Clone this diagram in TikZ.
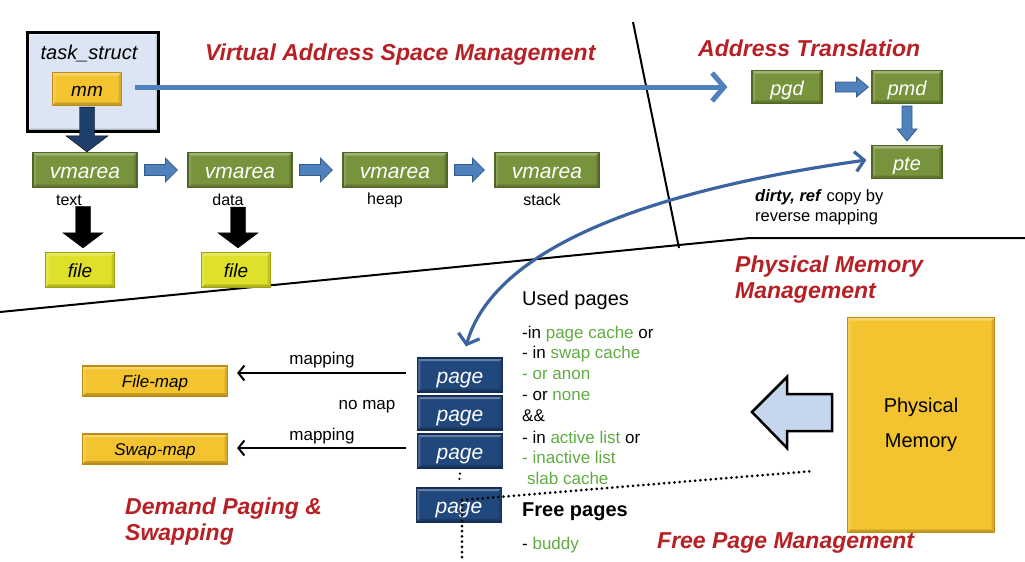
\documentclass[tikz,border=0pt]{standalone}
\usepackage{fontspec}
\setmainfont{Liberation Sans}
\usetikzlibrary{arrows.meta,calc}
\definecolor{tred}{RGB}{183,32,36}
\definecolor{tgreen}{RGB}{96,172,66}
\definecolor{gfill}{RGB}{119,147,60}
\definecolor{gdraw}{RGB}{80,100,40}
\definecolor{pgfill}{RGB}{33,72,124}
\definecolor{pgdraw}{RGB}{20,45,85}
\definecolor{gold}{RGB}{244,196,48}
\definecolor{golddraw}{RGB}{190,140,20}
\definecolor{yfill}{RGB}{222,224,42}
\definecolor{ydraw}{RGB}{160,160,20}
\definecolor{tsfill}{RGB}{219,229,244}
\definecolor{bfill}{RGB}{79,129,189}
\definecolor{bdraw}{RGB}{52,90,140}
\definecolor{dkblue}{RGB}{30,62,108}
\definecolor{lblue}{RGB}{198,214,238}
\definecolor{cblue}{RGB}{60,100,160}
\newcommand\rblk[6]{\draw[#3] let \p1=(#1),\p2=(#2) in (\x1,\y1+#4) -- (\x2-#6,\y1+#4) -- (\x2-#6,\y1+#5) -- (\x2,\y1) -- (\x2-#6,\y1-#5) -- (\x2-#6,\y1-#4) -- (\x1,\y1-#4) -- cycle;}
\newcommand\dblk[6]{\draw[#3] let \p1=(#1),\p2=(#2) in (\x1-#4,\y1) -- (\x1-#4,\y2+#6) -- (\x1-#5,\y2+#6) -- (\x1,\y2) -- (\x1+#5,\y2+#6) -- (\x1+#4,\y2+#6) -- (\x1+#4,\y1) -- cycle;}
\tikzset{
  box/.style={rectangle, inner sep=0pt, line width=1.2pt,
    path picture={
      \fill[white, opacity=0.3] (path picture bounding box.north west) -- (path picture bounding box.north east) -- ([xshift=-3pt,yshift=-3pt]path picture bounding box.north east) -- ([xshift=3pt,yshift=-3pt]path picture bounding box.north west) -- cycle;
      \fill[white, opacity=0.15] (path picture bounding box.north west) -- (path picture bounding box.south west) -- ([xshift=3pt,yshift=3pt]path picture bounding box.south west) -- ([xshift=3pt,yshift=-3pt]path picture bounding box.north west) -- cycle;
      \fill[black, opacity=0.2] (path picture bounding box.south west) -- (path picture bounding box.south east) -- ([xshift=-3pt,yshift=3pt]path picture bounding box.south east) -- ([xshift=3pt,yshift=3pt]path picture bounding box.south west) -- cycle;
      \fill[black, opacity=0.12] (path picture bounding box.north east) -- (path picture bounding box.south east) -- ([xshift=-3pt,yshift=3pt]path picture bounding box.south east) -- ([xshift=-3pt,yshift=-3pt]path picture bounding box.north east) -- cycle;
    }},
  gbox/.style={box, fill=gfill, draw=gdraw, minimum width=104pt, minimum height=35pt, text=white, text height=16.5pt, text depth=0pt, font=\fontsize{21}{24}\selectfont\itshape},
  sgbox/.style={box, fill=gfill, draw=gdraw, minimum width=70pt, minimum height=33pt, text=white, text height=16pt, text depth=0pt, font=\fontsize{20}{24}\selectfont\itshape},
  pgbox/.style={box, fill=pgfill, draw=pgdraw, minimum width=85pt, minimum height=34pt, text=white, text height=16.5pt, text depth=0pt, font=\fontsize{21}{24}\selectfont\itshape},
  mapbox/.style={box, fill=gold, draw=golddraw, minimum width=145pt, minimum height=30pt, text height=13.5pt, text depth=0pt, font=\fontsize{17}{20}\selectfont\itshape},
  filebox/.style={box, fill=yfill, draw=ydraw, minimum width=69pt, minimum height=35pt, text height=15pt, text depth=0pt, font=\fontsize{19}{22}\selectfont\itshape},
  ttl/.style={anchor=west, inner sep=0pt, align=left, text=tred, font=\fontsize{23}{26}\selectfont\bfseries\itshape},
  lbl/.style={inner sep=0pt, font=\fontsize{16}{19}\selectfont},
  lst/.style={anchor=west, inner sep=0pt, font=\fontsize{17}{20}\selectfont},
  bblk/.style={fill=bfill, draw=bdraw, line width=0.8pt},
  dots/.style={line width=3pt, line cap=round, dash pattern=on 0pt off 5.2pt},
  sep/.style={line width=2pt, black},
}
\begin{document}
\begin{tikzpicture}[x=1pt,y=-1pt]
\useasboundingbox (0,0) rectangle (1025,562);
\fill[white] (0,0) rectangle (1025,562);

% separators
\draw[sep] (0,312) -- (750,238) -- (1025,238);
\draw[sep] (633,22) -- (679,248);

% task_struct
\node[box, fill=tsfill, draw=black, line width=3pt, minimum width=131pt, minimum height=99pt] (ts) at (93,82) {};
\node[inner sep=0pt, font=\fontsize{20}{24}\selectfont\itshape] (tsl) at (89,53) {task\_struct};
\node[box, fill=gold, draw=golddraw, minimum width=69pt, minimum height=33pt, text height=15pt, text depth=0pt, font=\fontsize{19}{22}\selectfont\itshape] (mm) at (87,89) {mm};

% vmareas
\node[gbox] (v1) at (85,170) {vmarea};
\node[gbox] (v2) at (240,170) {vmarea};
\node[gbox] (v3) at (395,170) {vmarea};
\node[gbox] (v4) at (547,170) {vmarea};
\node[lbl] (lt) at (69,200) {text};
\node[lbl] (ld) at (228,200) {data};
\node[lbl] (lh) at (385,200) {heap};
\node[lbl] (ls) at (542,200) {stack};

\node[filebox] (f1) at (80,270) {file};
\node[filebox] (f2) at (236,270) {file};

% address translation
\node[sgbox] (pgd) at (787,87) {pgd};
\node[sgbox] (pmd) at (907,87) {pmd};
\node[sgbox] (pte) at (907,162) {pte};
\node[lbl, anchor=west, align=left, font=\fontsize{16.5}{20}\selectfont] (dr) at (755,207) {\textbf{\textit{dirty, ref}} copy by\\reverse mapping};

% pages
\node[pgbox] (pg1) at (460,375) {page};
\node[pgbox] (pg2) at (460,413) {page};
\node[pgbox] (pg3) at (460,451) {page};
\node[pgbox] (pg4) at (459,505) {page};

% maps
\node[mapbox] (fm) at (155,381) {File-map};
\node[mapbox] (sm) at (155,449) {Swap-map};
\node[lbl, font=\fontsize{17}{20}\selectfont] (m1) at (322,360) {mapping};
\node[lbl, font=\fontsize{17}{20}\selectfont] (nm) at (367,407) {no map};
\node[lbl, font=\fontsize{17}{20}\selectfont] (m2) at (322,436) {mapping};

% physical memory
\node[box, fill=gold, draw=golddraw, minimum width=147pt, minimum height=215pt, align=center, font=\fontsize{20}{35}\selectfont] (pm) at (921,425) {Physical\\Memory};

% titles
\node[ttl] (tv) at (205,55) {Virtual Address Space Management};
\node[ttl] (ta) at (698,48) {Address Translation};
\node[ttl] (tp) at (735,280) {Physical Memory\\Management};
\node[ttl] (td) at (125,522) {Demand Paging \&\\Swapping};
\node[ttl] (tf) at (657,543) {Free Page Management};

% used pages list
\node[lst, font=\fontsize{20}{24}\selectfont] (up) at (522,300) {Used pages};
\node[lst] (u1) at (522,334) {-in {\color{tgreen}page cache} or};
\node[lst] (u2) at (522,354) {- in {\color{tgreen}swap cache}};
\node[lst, text=tgreen] (u3) at (522,375) {- or anon};
\node[lst] (u4) at (522,396) {- or {\color{tgreen}none}};
\node[lst] (u5) at (522,416) {\&\&};
\node[lst] (u6) at (522,437) {- in {\color{tgreen}active list} or};
\node[lst, text=tgreen] (u7) at (522,457) {- inactive list};
\node[lst, text=tgreen] (u8) at (527,478) {slab cache};
\node[lst, font=\fontsize{20}{24}\selectfont\bfseries] (fp) at (522,512) {Free pages};
\node[lst] (bd) at (522,545) {- {\color{tgreen}buddy}};

% connectors
\dblk{$(mm.south)+(0,1)$}{v1.north}{fill=dkblue}{7.5pt}{21pt}{16pt}
\rblk{$(v1.east)+(7,0)$}{$(v2.west)+(-10,0)$}{bblk}{5.5pt}{12pt}{12pt}
\rblk{$(v2.east)+(7,0)$}{$(v3.west)+(-10,0)$}{bblk}{5.5pt}{12pt}{12pt}
\rblk{$(v3.east)+(7,0)$}{$(v4.west)+(-10,0)$}{bblk}{5.5pt}{12pt}{12pt}
\dblk{$(f1.north |- lt.south)+(3,1)$}{$(f1.north)+(3,-4)$}{fill=black}{7.5pt}{20pt}{15pt}
\dblk{$(f2.north |- ld.south)+(2,1)$}{$(f2.north)+(2,-4)$}{fill=black}{7.5pt}{20pt}{15pt}
\rblk{$(pgd.east)+(13,0)$}{$(pmd.west)+(-3,0)$}{bblk}{5pt}{10pt}{12pt}
\dblk{$(pmd.south)+(0,2)$}{$(pte.north)+(0,-4)$}{bblk}{5pt}{10pt}{12pt}

\draw[bfill, line width=5pt, -{Straight Barb[length=12pt,width=28pt]}] ($(mm.east)+(13,-2)$) -- ($(pgd.west)+(-24,0)$);

\coordinate (cA) at ($(pg1.north)+(6,-11)$);
\coordinate (cB) at ($(pte.west)+(-5,-2)$);
\draw[cblue, line width=3.2pt, {Straight Barb[length=9pt,width=22pt]}-{Straight Barb[length=9pt,width=20pt]}] (cA) .. controls (490,262) and (610,196) .. (cB);

\draw[line width=2pt, -{Straight Barb[length=6pt,width=15pt]}] ($(pg1.west)+(-11,-2)$) -- ($(pg1.west -| fm.east)+(9,-2)$);
\draw[line width=2pt, -{Straight Barb[length=6pt,width=15pt]}] ($(pg3.west)+(-11,-3)$) -- ($(pg3.west -| sm.east)+(9,-3)$);

% big outline arrow from physical memory
\draw[line width=2.5pt, fill=lblue, line join=miter] (752,412) -- (787,377) -- (787,394) -- (832,394) -- (832,431) -- (787,431) -- (787,448) -- cycle;

% dotted lines
\coordinate (dA) at ($(pg4.center)+(3,-5)$);
\coordinate (dB) at (813,471);
\coordinate (dC) at (462,562);
\draw[dots] (dA) -- (dB);
\draw[dots] (dA) -- (dC);
\draw[dots, line width=2.5pt] ($(pg3.south)+(0,5)$) -- ($(pg4.north)+(0,-4)$);
\end{tikzpicture}
\end{document}
